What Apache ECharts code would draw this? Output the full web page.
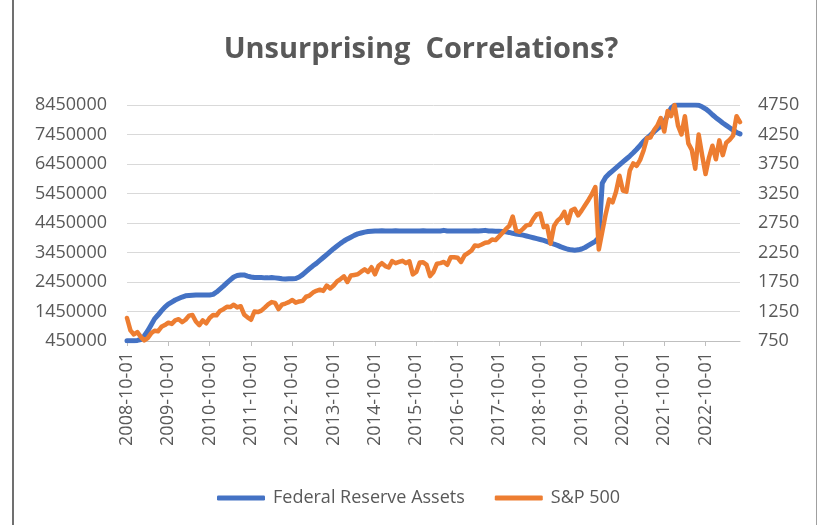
<!DOCTYPE html>
<html>
<head>
<meta charset="utf-8">
<script src="https://cdn.jsdelivr.net/npm/echarts@6/dist/echarts.min.js"></script>
<style>
  html, body { margin: 0; padding: 0; background: #fff; }
  #frame { position: absolute; left: 12px; top: 0; width: 802px; height: 525px;
           border-left: 2px solid #707070; border-right: 1px solid #a0a0a0; }
  #main { position: absolute; left: 0; top: 0; width: 822px; height: 525px; }
</style>
</head>
<body>
<div id="frame"></div>
<div id="main"></div>
<script>
  // monthly values, first month 2008-10
  var startYear = 2008, startMonth = 10;

  // Federal Reserve Assets, one row per calendar year
  var fedAssets = [].concat(
    [460000, 460000, 460000],
    [470000, 500000, 620000, 790000, 990000, 1200000, 1330000, 1470000, 1600000, 1700000, 1770000, 1840000],
    [1890000, 1940000, 1980000, 1990000, 2000000, 2010000, 2010000, 2010000, 2010000, 2010000, 2030000, 2110000],
    [2210000, 2310000, 2420000, 2520000, 2620000, 2670000, 2690000, 2690000, 2650000, 2620000, 2600000, 2600000],
    [2600000, 2590000, 2590000, 2600000, 2590000, 2580000, 2560000, 2550000, 2560000, 2560000, 2570000, 2620000],
    [2700000, 2800000, 2900000, 3000000, 3080000, 3180000, 3280000, 3380000, 3480000, 3580000, 3670000, 3760000],
    [3840000, 3910000, 3970000, 4030000, 4080000, 4110000, 4140000, 4160000, 4170000, 4180000, 4180000, 4190000],
    [4180000, 4180000, 4180000, 4190000, 4180000, 4180000, 4180000, 4180000, 4180000, 4180000, 4180000, 4190000],
    [4180000, 4180000, 4180000, 4180000, 4180000, 4200000, 4180000, 4180000, 4180000, 4180000, 4180000, 4180000],
    [4180000, 4180000, 4190000, 4180000, 4190000, 4200000, 4180000, 4180000, 4170000, 4170000, 4160000, 4150000],
    [4130000, 4100000, 4080000, 4060000, 4040000, 4010000, 3980000, 3950000, 3920000, 3890000, 3860000, 3820000],
    [3780000, 3730000, 3690000, 3640000, 3600000, 3560000, 3540000, 3530000, 3540000, 3570000, 3620000, 3690000],
    [3760000, 3830000, 3950000, 5800000, 6000000, 6120000, 6220000, 6320000, 6420000, 6520000, 6620000, 6720000],
    [6830000, 6950000, 7080000, 7220000, 7330000, 7430000, 7540000, 7640000, 7730000, 7880000, 8100000, 8350000],
    [8440000, 8450000, 8450000, 8450000, 8450000, 8450000, 8450000, 8440000, 8390000, 8320000, 8230000, 8120000],
    [8020000, 7930000, 7840000, 7760000, 7680000, 7600000, 7520000, 7470000]
  );

  // S&P 500, one row per calendar year
  var sp500 = [].concat(
    [1140, 930, 860],
    [900, 820, 760, 800, 880, 925, 915, 990, 1020, 1060, 1040, 1100],
    [1120, 1070, 1110, 1180, 1190, 1080, 1020, 1100, 1050, 1140, 1190, 1185],
    [1260, 1290, 1330, 1325, 1365, 1320, 1340, 1200, 1150, 1110, 1250, 1240],
    [1265, 1315, 1370, 1410, 1395, 1290, 1365, 1385, 1410, 1445, 1400, 1420],
    [1430, 1500, 1520, 1570, 1600, 1620, 1600, 1690, 1640, 1690, 1760, 1800],
    [1845, 1750, 1860, 1870, 1880, 1925, 1965, 1920, 2000, 1880, 2020, 2070],
    [2020, 1995, 2105, 2070, 2090, 2110, 2070, 2100, 1880, 1920, 2080, 2085],
    [2040, 1850, 1920, 2060, 2070, 2090, 2040, 2170, 2170, 2160, 2090, 2200],
    [2240, 2280, 2370, 2360, 2385, 2415, 2425, 2470, 2460, 2520, 2580, 2645],
    [2700, 2860, 2620, 2600, 2650, 2710, 2720, 2820, 2900, 2910, 2680, 2700],
    [2400, 2700, 2790, 2840, 2940, 2750, 2960, 2990, 2880, 2960, 3050, 3140],
    [3240, 3360, 2300, 2600, 2900, 3150, 3100, 3280, 3550, 3300, 3280, 3640],
    [3760, 3720, 3820, 3980, 4190, 4200, 4320, 4400, 4530, 4300, 4650, 4560],
    [4750, 4400, 4250, 4560, 4100, 3990, 3670, 4250, 3900, 3580, 3860, 4060],
    [3830, 4150, 3900, 4110, 4160, 4230, 4560, 4460]
  );

  var months = [];
  for (var k = 0; k < fedAssets.length; k++) {
    var m = startMonth - 1 + k;
    var yy = startYear + Math.floor(m / 12);
    var mm = (m % 12) + 1;
    months.push(yy + '-' + (mm < 10 ? '0' + mm : mm) + '-01');
  }

  var isOctober = function (idx, val) { return months[idx].slice(5, 7) === '10'; };
  var plain = function (v) { return String(v); };

  var textColor = '#595959';
  var font = 'Open Sans';

  var myChart = echarts.init(document.getElementById('main'));
  var option = {
    animation: false,
    title: {
      text: 'Unsurprising  Correlations?',
      left: 416,
      textAlign: 'center',
      top: 30,
      textStyle: { fontFamily: font, fontSize: 29, fontWeight: 'bold', color: textColor }
    },
    legend: {
      left: 212,
      top: 484,
      icon: 'roundRect',
      itemWidth: 48,
      itemHeight: 5,
      itemGap: 30,
      textStyle: { fontFamily: font, fontSize: 18, color: textColor, padding: [0, 0, 0, 3] },
      data: ['Federal Reserve Assets', 'S&P 500']
    },
    grid: { left: 127, right: 82, top: 105, bottom: 184 },
    xAxis: {
      type: 'category',
      boundaryGap: false,
      data: months,
      axisLine: { lineStyle: { color: '#bfbfbf' } },
      axisTick: { interval: isOctober, length: 5, lineStyle: { color: '#bfbfbf' } },
      axisLabel: { interval: isOctober, rotate: 90, margin: 11, fontFamily: font, fontSize: 18, color: textColor }
    },
    yAxis: [{
      type: 'value',
      min: 450000,
      max: 8450000,
      interval: 1000000,
      axisLine: { show: false },
      axisTick: { show: false },
      splitLine: { lineStyle: { color: '#d9d9d9' } },
      axisLabel: { margin: 20, formatter: plain, fontFamily: font, fontSize: 18, color: textColor }
    }, {
      type: 'value',
      min: 750,
      max: 4750,
      interval: 500,
      axisLine: { show: false },
      axisTick: { show: false },
      splitLine: { show: false },
      axisLabel: { margin: 18, formatter: plain, fontFamily: font, fontSize: 18, color: textColor }
    }],
    series: [{
      name: 'Federal Reserve Assets',
      type: 'line',
      yAxisIndex: 0,
      data: fedAssets,
      showSymbol: false,
      symbol: 'none',
      itemStyle: { color: '#4472C4' },
      lineStyle: { color: '#4472C4', width: 5, cap: 'round', join: 'round' }
    }, {
      name: 'S&P 500',
      type: 'line',
      yAxisIndex: 1,
      data: sp500,
      showSymbol: false,
      symbol: 'none',
      itemStyle: { color: '#ED7D31' },
      lineStyle: { color: '#ED7D31', width: 4.5, cap: 'round', join: 'round' }
    }]
  };
  myChart.setOption(option);
</script>
</body>
</html>
